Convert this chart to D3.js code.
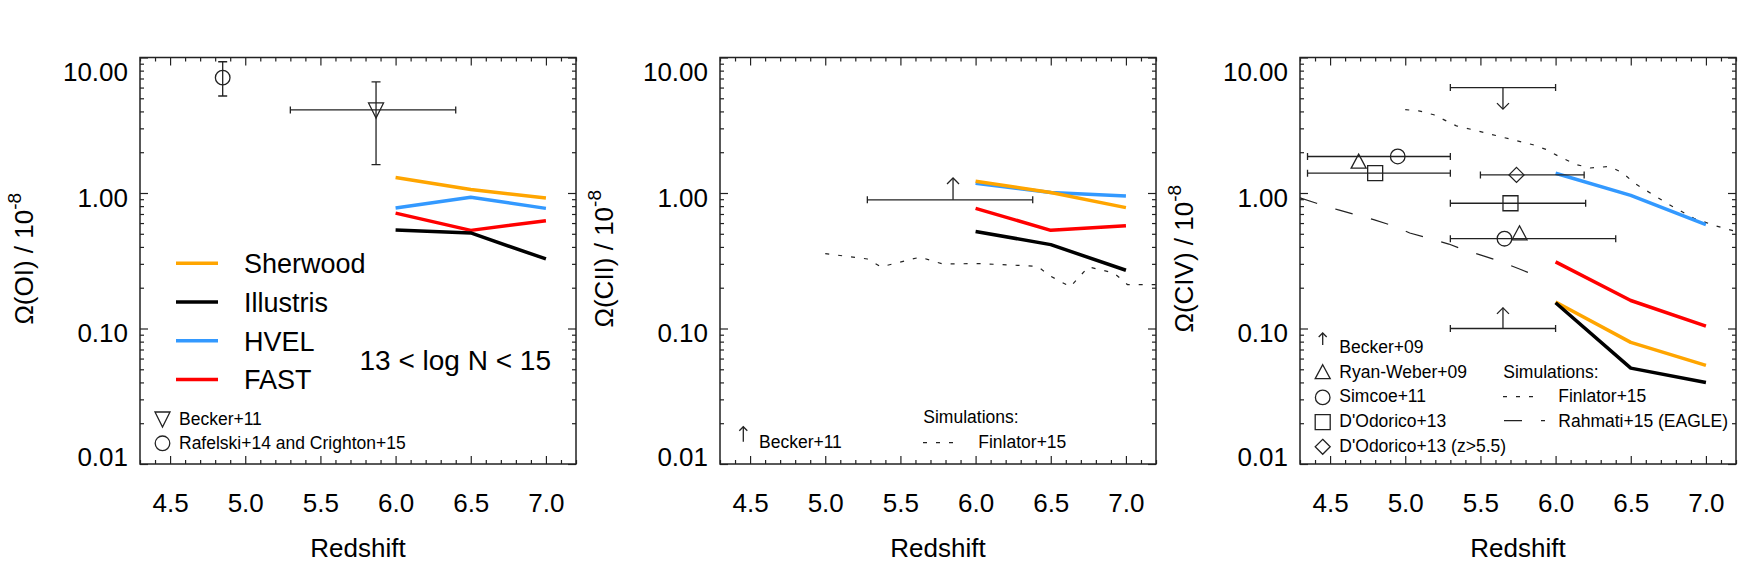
<!DOCTYPE html>
<html>
<head>
<meta charset="utf-8">
<script src="https://cdnjs.cloudflare.com/ajax/libs/d3/7.8.5/d3.min.js"></script>
<style>
  body { margin: 0; background: #fff; }
  svg { font-family: "Liberation Sans", Arial, Helvetica, sans-serif; }
</style>
</head>
<body>
<svg id="chart" width="1744" height="581"></svg>
<script>

// simulation redshifts (all three panels)
var simZ = [6.0, 6.5, 7.0];

// O I  (13 < log N < 15)
var oiSherwood  = [1.30, 1.06, 0.92];
var oiIllustris = [0.533, 0.507, 0.326];
var oiHvel      = [0.775, 0.93, 0.77];
var oiFast      = [0.71, 0.53, 0.625];

// C II
var ciiSherwood  = [1.22, 1.01, 0.78];
var ciiIllustris = [0.52, 0.416, 0.269];
var ciiHvel      = [1.18, 1.01, 0.95];
var ciiFast      = [0.77, 0.53, 0.574];

// C IV
var civSherwood  = [0.157, 0.079, 0.0535];
var civIllustris = [0.155, 0.051, 0.040];
var civHvel      = [1.40, 0.96, 0.584];
var civFast      = [0.31, 0.161, 0.104];

// Finlator+15 curves
var finlatorCIIz = [5.0, 5.28, 5.37, 5.63, 5.78, 6.03, 6.41, 6.50, 6.63, 6.75, 6.92, 7.01, 7.2];
var finlatorCII  = [0.357, 0.326, 0.285, 0.336, 0.300, 0.301, 0.288, 0.243, 0.203, 0.285, 0.257, 0.211, 0.211];
var finlatorCIVz = [5.0, 5.09, 5.19, 5.34, 5.45, 5.63, 5.85, 5.94, 6.03, 6.14, 6.23, 6.36, 6.45, 6.52, 6.74, 6.92, 7.07, 7.2];
var finlatorCIV  = [4.12, 4.04, 3.78, 3.13, 2.93, 2.61, 2.27, 2.09, 1.84, 1.62, 1.53, 1.57, 1.40, 1.19, 0.84, 0.65, 0.57, 0.52];

// Rahmati+15 (EAGLE)
var rahmatiCIVz = [4.3, 4.41, 4.55, 4.67, 4.79, 4.91, 5.03, 5.15, 5.29, 5.40, 5.53, 5.64, 5.76, 5.89];
var rahmatiCIV  = [0.92, 0.84, 0.753, 0.692, 0.636, 0.577, 0.507, 0.466, 0.42, 0.377, 0.341, 0.31, 0.275, 0.24];

// observations
var becker11OI   = [{z: 5.87, zlo: 5.3, zhi: 6.4, v: 4.1, vlo: 1.62, vhi: 6.6}];
var rafelski14OI = [{z: 4.85, v: 7.1, vlo: 5.2, vhi: 9.3}];
var becker11CII  = [{z: 5.85, zlo: 5.28, zhi: 6.38, v: 0.89, tip: 1.29}];
var becker09Up   = [{z: 5.65, zlo: 5.3, zhi: 6.0, v: 6.0, tip: 4.16}];
var becker09Low  = [{z: 5.65, zlo: 5.3, zhi: 6.0, v: 0.10, tip: 0.142}];
var simcoe11     = [{z: 4.95, zlo: 4.35, zhi: 5.3, v: 1.86}, {z: 5.66, zlo: 5.3, zhi: 6.4, v: 0.46}];
var dodorico13   = [{z: 4.80, zlo: 4.35, zhi: 5.3, v: 1.40}, {z: 5.70, zlo: 5.3, zhi: 6.2, v: 0.84}];
var dodorico13hi = [{z: 5.74, zlo: 5.5, zhi: 6.19, v: 1.36}];
var ryanWeber09  = [{z: 4.69, v: 1.69}, {z: 5.76, v: 0.50}];

var yTicks = [10, 1, 0.1, 0.01];
var xTicks = [4.5, 5.0, 5.5, 6.0, 6.5, 7.0];

var colors = {sherwood: '#ffa500', illustris: '#000000', hvel: '#3399ff', fast: '#ff0000'};

var svg = d3.select('#chart');
var W = 436, H = 406.5, TOP = 57.5;
var lefts = [140, 720, 1300];
var ink = '#222';

function makePanel(i, ion) {
  var g = svg.append('g').attr('transform', 'translate(' + lefts[i] + ',' + TOP + ')');
  var x = d3.scaleLinear().domain([4.3, 7.2]).range([0, W]);
  var y = d3.scaleLog().domain([0.01, 10]).range([H, 0]);

  g.append('clipPath').attr('id', 'clip' + i)
    .append('rect').attr('width', W).attr('height', H);

  var minorX = d3.range(43, 73).map(function(d){ return d / 10; })
    .filter(function(d){ return Math.abs(d * 2 - Math.round(d * 2)) > 0.01; });
  var minorY = [];
  [0.01, 0.1, 1].forEach(function(b){ for (var k = 2; k < 10; k++) minorY.push(b * k); });

  var yShift = {'10': 15, '1': 5, '0.1': 5, '0.01': -7};

  var ax = g.append('g').attr('class', 'axes');
  var left = ax.append('g').call(d3.axisLeft(y).tickValues(yTicks).tickSize(-8).tickPadding(12)
    .tickFormat(d3.format('.2f')));
  left.selectAll('.tick text').attr('transform', function(d){ return 'translate(0,' + yShift[String(d)] + ')'; });
  ax.append('g').call(d3.axisLeft(y).tickValues(minorY).tickSize(-4).tickFormat(''));
  ax.append('g').attr('transform', 'translate(' + W + ',0)')
    .call(d3.axisRight(y).tickValues(yTicks).tickSize(-8).tickFormat(''));
  ax.append('g').attr('transform', 'translate(' + W + ',0)')
    .call(d3.axisRight(y).tickValues(minorY).tickSize(-4).tickFormat(''));
  ax.append('g').attr('transform', 'translate(0,' + H + ')')
    .call(d3.axisBottom(x).tickValues(xTicks).tickSize(-8).tickPadding(30).tickFormat(d3.format('.1f')));
  ax.append('g').attr('transform', 'translate(0,' + H + ')')
    .call(d3.axisBottom(x).tickValues(minorX).tickSize(-4).tickFormat(''));
  ax.append('g').call(d3.axisTop(x).tickValues(xTicks).tickSize(-8).tickFormat(''));
  ax.append('g').call(d3.axisTop(x).tickValues(minorX).tickSize(-4).tickFormat(''));

  ax.selectAll('.domain').remove();
  ax.selectAll('.tick line').attr('stroke', ink).attr('stroke-width', 1.2);
  ax.selectAll('.tick text').attr('font-size', 26).attr('fill', '#000')
    .attr('font-family', '"Liberation Sans", Arial, sans-serif');

  g.append('rect').attr('width', W).attr('height', H)
    .attr('fill', 'none').attr('stroke', ink).attr('stroke-width', 1.5);

  g.append('text').attr('x', W / 2).attr('y', H + 93).attr('text-anchor', 'middle')
    .attr('font-size', 26).text('Redshift');

  var t = g.append('text').attr('transform', 'translate(-107,' + (H / 2 - 2) + ') rotate(-90)')
    .attr('text-anchor', 'middle').attr('font-size', 26);
  t.append('tspan').text('\u03A9(' + ion + ') / 10');
  t.append('tspan').attr('dy', -12).attr('font-size', 19).text('-8');

  var plot = g.append('g').attr('clip-path', 'url(#clip' + i + ')');
  return {g: g, plot: plot, x: x, y: y};
}

function simLines(p, sets) {
  var line = d3.line().x(function(d){ return p.x(d[0]); }).y(function(d){ return p.y(d[1]); });
  sets.forEach(function(s){
    p.plot.append('path').datum(d3.zip(simZ, s[0]))
      .attr('d', line).attr('fill', 'none').attr('stroke', s[1])
      .attr('stroke-width', 3.5).attr('stroke-linejoin', 'round');
  });
}

function curve(p, zs, vs, dash) {
  var line = d3.line().x(function(d){ return p.x(d[0]); }).y(function(d){ return p.y(d[1]); });
  p.plot.append('path').datum(d3.zip(zs, vs)).attr('d', line)
    .attr('fill', 'none').attr('stroke', ink).attr('stroke-width', 1.2)
    .attr('stroke-dasharray', dash);
}

function seg(g, x1, y1, x2, y2, w) {
  g.append('line').attr('x1', x1).attr('y1', y1).attr('x2', x2).attr('y2', y2)
    .attr('stroke', ink).attr('stroke-width', w || 1.3);
}

function arrow(g, x, y0, y1, head) {
  var dir = y1 < y0 ? 1 : -1;
  seg(g, x, y0, x, y1);
  g.append('path').attr('d', 'M' + (x - head) + ',' + (y1 + dir * head) + 'L' + x + ',' + y1 + 'L' + (x + head) + ',' + (y1 + dir * head))
    .attr('fill', 'none').attr('stroke', ink).attr('stroke-width', 1.3);
}

function hbar(g, x1, x2, y) {
  seg(g, x1, y, x2, y);
  seg(g, x1, y - 3.5, x1, y + 3.5);
  seg(g, x2, y - 3.5, x2, y + 3.5);
}

function vbar(g, x, y1, y2) {
  seg(g, x, y1, x, y2);
  seg(g, x - 4.5, y1, x + 4.5, y1);
  seg(g, x - 4.5, y2, x + 4.5, y2);
}

function marker(g, type, cx, cy) {
  var d;
  if (type === 'circle') {
    g.append('circle').attr('cx', cx).attr('cy', cy).attr('r', 7.3)
      .attr('fill', 'none').attr('stroke', ink).attr('stroke-width', 1.3);
    return;
  }
  if (type === 'up') d = 'M' + cx + ',' + (cy - 8) + 'L' + (cx + 7.5) + ',' + (cy + 6) + 'L' + (cx - 7.5) + ',' + (cy + 6) + 'Z';
  if (type === 'down') d = 'M' + (cx - 7.5) + ',' + (cy - 7) + 'L' + (cx + 7.5) + ',' + (cy - 7) + 'L' + cx + ',' + (cy + 8) + 'Z';
  if (type === 'square') d = 'M' + (cx - 7.5) + ',' + (cy - 7.5) + 'h15v15h-15Z';
  if (type === 'diamond') d = 'M' + cx + ',' + (cy - 7.5) + 'L' + (cx + 7.5) + ',' + cy + 'L' + cx + ',' + (cy + 7.5) + 'L' + (cx - 7.5) + ',' + cy + 'Z';
  g.append('path').attr('d', d).attr('fill', 'none').attr('stroke', ink).attr('stroke-width', 1.3);
}

function label(g, x, y, txt, size) {
  g.append('text').attr('x', x).attr('y', y).attr('font-size', size || 17.5).text(txt);
}

// ---------- panel 1 : O I ----------
var p1 = makePanel(0, 'OI');
simLines(p1, [[oiSherwood, colors.sherwood], [oiHvel, colors.hvel], [oiFast, colors.fast], [oiIllustris, colors.illustris]]);
becker11OI.forEach(function(d){
  hbar(p1.plot, p1.x(d.zlo), p1.x(d.zhi), p1.y(d.v));
  vbar(p1.plot, p1.x(d.z), p1.y(d.vhi), p1.y(d.vlo));
  marker(p1.plot, 'down', p1.x(d.z), p1.y(d.v));
});
rafelski14OI.forEach(function(d){
  vbar(p1.plot, p1.x(d.z), p1.y(d.vhi), p1.y(d.vlo));
  marker(p1.plot, 'circle', p1.x(d.z), p1.y(d.v));
});

var legNames = ['Sherwood', 'Illustris', 'HVEL', 'FAST'];
var legCols = [colors.sherwood, colors.illustris, colors.hvel, colors.fast];
legNames.forEach(function(n, k){
  var ly = 205.8 + k * 38.7;
  p1.g.append('line').attr('x1', 36).attr('x2', 78).attr('y1', ly).attr('y2', ly)
    .attr('stroke', legCols[k]).attr('stroke-width', 3.5);
  label(p1.g, 104, ly + 10, n, 27);
});
p1.g.append('text').attr('x', 411).attr('y', 312.5).attr('text-anchor', 'end')
  .attr('font-size', 28).text('13 < log N < 15');
marker(p1.g, 'down', 22.5, 361.5);
label(p1.g, 39, 367.5, 'Becker+11');
marker(p1.g, 'circle', 22.5, 385.8);
label(p1.g, 39, 391.8, 'Rafelski+14 and Crighton+15');

// ---------- panel 2 : C II ----------
var p2 = makePanel(1, 'CII');
curve(p2, finlatorCIIz, finlatorCII, '4,9');
simLines(p2, [[ciiHvel, colors.hvel], [ciiSherwood, colors.sherwood], [ciiFast, colors.fast], [ciiIllustris, colors.illustris]]);
becker11CII.forEach(function(d){
  hbar(p2.plot, p2.x(d.zlo), p2.x(d.zhi), p2.y(d.v));
  arrow(p2.plot, p2.x(d.z), p2.y(d.v), p2.y(d.tip), 6);
});
arrow(p2.g, 23.3, 384.2, 369.2, 4);
label(p2.g, 39, 390.8, 'Becker+11');
label(p2.g, 203.3, 365.8, 'Simulations:');
p2.g.append('line').attr('x1', 203).attr('x2', 237).attr('y1', 385.2).attr('y2', 385.2)
  .attr('stroke', ink).attr('stroke-width', 1.2).attr('stroke-dasharray', '4,9');
label(p2.g, 258.3, 390.8, 'Finlator+15');

// ---------- panel 3 : C IV ----------
var p3 = makePanel(2, 'CIV');
curve(p3, finlatorCIVz, finlatorCIV, '4,9');
curve(p3, rahmatiCIVz, rahmatiCIV, '18,19');
simLines(p3, [[civHvel, colors.hvel], [civFast, colors.fast], [civSherwood, colors.sherwood], [civIllustris, colors.illustris]]);
becker09Up.concat(becker09Low).forEach(function(d){
  hbar(p3.plot, p3.x(d.zlo), p3.x(d.zhi), p3.y(d.v));
  arrow(p3.plot, p3.x(d.z), p3.y(d.v), p3.y(d.tip), 6);
});
simcoe11.forEach(function(d){
  hbar(p3.plot, p3.x(d.zlo), p3.x(d.zhi), p3.y(d.v));
  marker(p3.plot, 'circle', p3.x(d.z), p3.y(d.v));
});
dodorico13.forEach(function(d){
  hbar(p3.plot, p3.x(d.zlo), p3.x(d.zhi), p3.y(d.v));
  marker(p3.plot, 'square', p3.x(d.z), p3.y(d.v));
});
dodorico13hi.forEach(function(d){
  hbar(p3.plot, p3.x(d.zlo), p3.x(d.zhi), p3.y(d.v));
  marker(p3.plot, 'diamond', p3.x(d.z), p3.y(d.v));
});
ryanWeber09.forEach(function(d){
  marker(p3.plot, 'up', p3.x(d.z), p3.y(d.v));
});

arrow(p3.g, 22.7, 287.5, 275.5, 4);
label(p3.g, 39.3, 295.8, 'Becker+09');
var obsLeg = [['up', 'Ryan-Weber+09'], ['circle', 'Simcoe+11'], ['square', "D'Odorico+13"], ['diamond', "D'Odorico+13 (z>5.5)"]];
obsLeg.forEach(function(o, k){
  var ly = 315.2 + k * 24.7;
  marker(p3.g, o[0], 22.7, ly);
  label(p3.g, 39.3, ly + 5, o[1]);
});
label(p3.g, 203.3, 320.8, 'Simulations:');
p3.g.append('line').attr('x1', 203).attr('x2', 240).attr('y1', 339.2).attr('y2', 339.2)
  .attr('stroke', ink).attr('stroke-width', 1.2).attr('stroke-dasharray', '4,9');
label(p3.g, 258.3, 344.2, 'Finlator+15');
p3.g.append('line').attr('x1', 204).attr('x2', 245).attr('y1', 363.2).attr('y2', 363.2)
  .attr('stroke', ink).attr('stroke-width', 1.2).attr('stroke-dasharray', '18,19');
label(p3.g, 258.3, 369.2, 'Rahmati+15 (EAGLE)');

</script>
</body>
</html>
